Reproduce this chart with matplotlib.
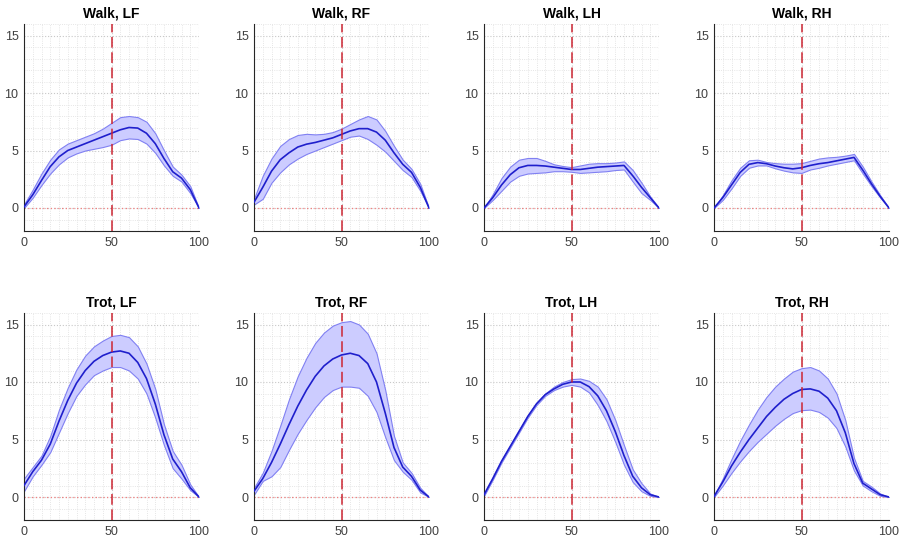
import numpy as np
import matplotlib.pyplot as plt
from matplotlib.ticker import MultipleLocator

# 보행 주기 (%)
cycle = [0, 5, 10, 15, 20, 25, 30, 35, 40, 45, 50, 55, 60, 65, 70, 75, 80, 85, 90, 95, 100]

titles = ['Walk, LF', 'Walk, RF', 'Walk, LH', 'Walk, RH',
          'Trot, LF', 'Trot, RF', 'Trot, LH', 'Trot, RH']

# 평균
walk_lf_mean = [0.1, 1.15, 2.4, 3.6, 4.45, 5.0, 5.3, 5.6, 5.9, 6.2, 6.5, 6.8, 7.0, 6.95, 6.5, 5.6, 4.3, 3.15, 2.6, 1.6, 0.0]
walk_rf_mean = [0.5, 1.8, 3.2, 4.2, 4.8, 5.3, 5.55, 5.7, 5.9, 6.1, 6.4, 6.7, 6.9, 6.9, 6.6, 5.9, 4.8, 3.8, 3.1, 1.8, 0.0]
walk_lh_mean = [0.0, 0.9, 2.0, 2.9, 3.5, 3.7, 3.7, 3.65, 3.55, 3.45, 3.35, 3.35, 3.45, 3.55, 3.6, 3.65, 3.7, 2.8, 1.8, 0.9, 0.0]
walk_rh_mean = [0.0, 0.9, 2.0, 3.1, 3.8, 3.95, 3.85, 3.65, 3.5, 3.4, 3.5, 3.7, 3.85, 3.95, 4.1, 4.25, 4.4, 3.3, 2.1, 1.0, 0.0]
trot_lf_mean = [1.0, 2.2, 3.2, 4.6, 6.6, 8.4, 9.9, 11.0, 11.8, 12.3, 12.6, 12.7, 12.5, 11.7, 10.3, 8.1, 5.4, 3.3, 2.2, 0.8, 0.0]
trot_rf_mean = [0.5, 1.6, 3.0, 4.6, 6.3, 7.9, 9.3, 10.5, 11.4, 12.0, 12.35, 12.5, 12.3, 11.6, 10.0, 7.3, 4.3, 2.6, 1.8, 0.6, 0.0]
trot_lh_mean = [0.2, 1.6, 3.1, 4.4, 5.7, 7.0, 8.1, 8.9, 9.4, 9.8, 10.0, 10.0, 9.6, 8.8, 7.5, 5.7, 3.6, 1.8, 0.8, 0.2, 0.0]
trot_rh_mean = [0.05, 1.3, 2.7, 3.9, 5.0, 6.0, 7.0, 7.8, 8.5, 9.0, 9.35, 9.4, 9.2, 8.6, 7.5, 5.6, 2.9, 1.2, 0.7, 0.2, 0.0]

# 상한
walk_lf_upper = [0.3, 1.6, 3.0, 4.2, 5.1, 5.6, 5.9, 6.2, 6.5, 6.9, 7.4, 7.9, 8.0, 7.9, 7.5, 6.5, 5.0, 3.6, 2.9, 1.9, 0.0]
walk_rf_upper = [0.8, 2.8, 4.3, 5.4, 6.0, 6.35, 6.45, 6.4, 6.45, 6.6, 6.9, 7.3, 7.7, 8.0, 7.7, 6.7, 5.4, 4.2, 3.4, 2.1, 0.0]
walk_lh_upper = [0.0, 1.2, 2.6, 3.6, 4.2, 4.35, 4.35, 4.1, 3.8, 3.65, 3.55, 3.7, 3.85, 3.9, 3.9, 3.95, 4.05, 3.3, 2.2, 1.0, 0.0]
walk_rh_upper = [0.0, 1.1, 2.4, 3.5, 4.15, 4.2, 4.0, 3.9, 3.85, 3.85, 3.9, 4.1, 4.3, 4.4, 4.45, 4.55, 4.7, 3.6, 2.3, 1.1, 0.0]
trot_lf_upper = [1.6, 2.6, 3.6, 5.3, 7.6, 9.5, 11.1, 12.3, 13.1, 13.6, 14.0, 14.1, 13.9, 13.1, 11.6, 9.4, 6.3, 4.0, 2.8, 1.1, 0.0]
trot_rf_upper = [0.8, 2.1, 4.0, 6.2, 8.5, 10.5, 12.1, 13.4, 14.3, 14.9, 15.2, 15.3, 15.0, 14.2, 12.5, 9.3, 5.3, 3.0, 2.1, 0.8, 0.0]
trot_lh_upper = [0.2, 1.7, 3.2, 4.5, 5.8, 7.1, 8.2, 9.0, 9.6, 10.0, 10.25, 10.3, 10.1, 9.6, 8.5, 6.7, 4.5, 2.4, 1.2, 0.3, 0.0]
trot_rh_upper = [0.1, 1.6, 3.3, 4.9, 6.3, 7.6, 8.7, 9.6, 10.3, 10.9, 11.2, 11.3, 11.0, 10.3, 9.0, 6.7, 3.4, 1.4, 0.9, 0.3, 0.0]

# 하한
walk_lf_lower = [0.0, 0.9, 2.0, 3.0, 3.8, 4.4, 4.75, 5.0, 5.15, 5.3, 5.5, 5.9, 6.05, 6.0, 5.6, 4.8, 3.7, 2.8, 2.3, 1.3, 0.0]
walk_rf_lower = [0.3, 0.8, 2.2, 3.1, 3.8, 4.3, 4.7, 5.0, 5.3, 5.6, 5.9, 6.2, 6.3, 6.0, 5.5, 4.9, 4.1, 3.3, 2.7, 1.5, 0.0]
walk_lh_lower = [0.0, 0.7, 1.5, 2.3, 2.8, 3.0, 3.05, 3.1, 3.2, 3.2, 3.15, 3.05, 3.1, 3.15, 3.2, 3.3, 3.35, 2.3, 1.3, 0.7, 0.0]
walk_rh_lower = [0.0, 0.7, 1.7, 2.8, 3.5, 3.7, 3.7, 3.45, 3.25, 3.1, 3.05, 3.35, 3.5, 3.7, 3.85, 4.0, 4.15, 3.0, 1.9, 0.9, 0.0]
trot_lf_lower = [0.5, 1.8, 2.8, 3.9, 5.6, 7.3, 8.8, 9.8, 10.6, 11.0, 11.3, 11.3, 11.0, 10.3, 9.0, 6.9, 4.5, 2.5, 1.6, 0.6, 0.0]
trot_rf_lower = [0.2, 1.4, 1.8, 2.6, 4.1, 5.5, 6.7, 7.8, 8.7, 9.3, 9.6, 9.6, 9.5, 8.8, 7.4, 5.2, 3.2, 2.2, 1.5, 0.4, 0.0]
trot_lh_lower = [0.1, 1.5, 3.0, 4.3, 5.6, 6.9, 8.0, 8.8, 9.3, 9.6, 9.75, 9.6, 9.1, 8.0, 6.6, 4.8, 2.8, 1.3, 0.5, 0.1, 0.0]
trot_rh_lower = [0.0, 1.0, 2.1, 3.1, 4.0, 4.8, 5.5, 6.2, 6.8, 7.3, 7.55, 7.6, 7.4, 6.9, 6.0, 4.4, 2.3, 1.0, 0.5, 0.1, 0.0]

means = [walk_lf_mean, walk_rf_mean, walk_lh_mean, walk_rh_mean,
         trot_lf_mean, trot_rf_mean, trot_lh_mean, trot_rh_mean]
uppers = [walk_lf_upper, walk_rf_upper, walk_lh_upper, walk_rh_upper,
          trot_lf_upper, trot_rf_upper, trot_lh_upper, trot_rh_upper]
lowers = [walk_lf_lower, walk_rf_lower, walk_lh_lower, walk_rh_lower,
          trot_lf_lower, trot_rf_lower, trot_lh_lower, trot_rh_lower]

plt.rcParams['font.family'] = ['Liberation Sans', 'DejaVu Sans']

fig = plt.figure(figsize=(9, 5.42), dpi=100)

# 축 위치 (픽셀 기준으로 맞춤)
lefts = [24, 254, 484, 714]
tops = [24, 313]
w, h = 175, 207

for i in range(8):
    row, col = divmod(i, 4)
    ax = fig.add_axes([lefts[col] / 900, 1 - (tops[row] + h) / 542, w / 900, h / 542])

    ax.fill_between(cycle, lowers[i], uppers[i], facecolor=(0.8, 0.8, 1.0),
                    edgecolor=(0.5, 0.5, 0.95), linewidth=0.8, zorder=2)
    ax.plot(cycle, means[i], color=(0.12, 0.12, 0.8), linewidth=1.2, zorder=3)
    ax.axvline(50, color=(0.8, 0.15, 0.2), linestyle=(0, (7, 3)), linewidth=1.1, zorder=4)
    ax.axhline(0, color=(0.95, 0.5, 0.5), linestyle=(0, (1, 2)), linewidth=0.9, zorder=1)

    ax.set_xlim(0, 100)
    ax.set_ylim(-2, 16)
    ax.set_xticks([0, 50, 100])
    ax.set_yticks([0, 5, 10, 15])
    ax.xaxis.set_minor_locator(MultipleLocator(5))
    ax.yaxis.set_minor_locator(MultipleLocator(1))
    ax.grid(True, which='major', color='#c8c8c8', linestyle=':', linewidth=0.8)
    ax.grid(True, which='minor', color='#dddddd', linestyle=':', linewidth=0.6)
    ax.set_axisbelow(True)

    for s in ['top', 'right']:
        ax.spines[s].set_visible(False)
    for s in ['left', 'bottom']:
        ax.spines[s].set_color('#262626')
        ax.spines[s].set_linewidth(0.8)
    ax.tick_params(which='both', direction='in', length=0, labelsize=9, colors='#404040', pad=4)

    ax.set_title(titles[i], fontsize=10, fontweight='bold', pad=5)

plt.savefig('out.png', dpi=100)
